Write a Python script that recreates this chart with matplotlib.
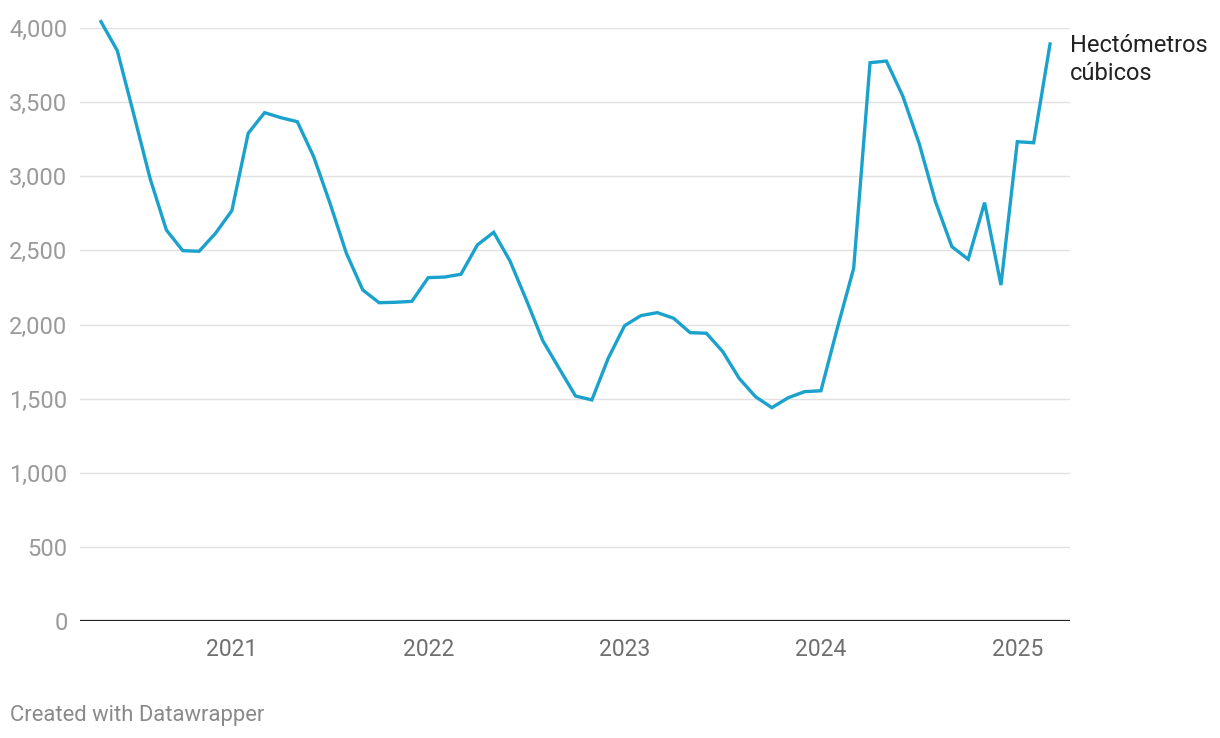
import matplotlib
matplotlib.use("Agg")
import matplotlib.pyplot as plt
import numpy as np

plt.rcParams['font.family'] = ['Roboto', 'DejaVu Sans']

# monthly values, May 2020 .. March 2025 (hectómetros cúbicos)
start_year, start_month = 2020, 5
values = [4043, 3847, 3420, 2986, 2637, 2498, 2494, 2615, 2768, 3290, 3429, 3395,
          3368, 3132, 2817, 2480, 2233, 2147, 2150, 2156, 2316, 2320, 2339, 2536,
          2622, 2428, 2165, 1891, 1704, 1518, 1491, 1772, 1992, 2060, 2080, 2042,
          1945, 1941, 1817, 1637, 1513, 1439, 1506, 1547, 1553, 1975, 2379, 3766,
          3777, 3541, 3222, 2828, 2525, 2440, 2822, 2266, 3233, 3226, 3892]
years = [2021, 2022, 2023, 2024, 2025]
yticks = [0, 500, 1000, 1500, 2000, 2500, 3000, 3500, 4000]
series_label = "Hectómetros\ncúbicos"

t = np.array([start_year + (start_month - 1 + i) / 12 for i in range(len(values))])

fig = plt.figure(figsize=(12.2, 7.38), dpi=100)
ax = fig.add_axes([80 / 1220, (738 - 621) / 738, 990 / 1220, 593 / 738])

for yv in yticks[1:]:
    ax.axhline(yv, color='#e1e1e1', lw=1.0, zorder=1)
ax.axhline(0, color='#222222', lw=1.6, zorder=3)

ax.plot(t, values, color='#1aa2cc', lw=2.4, zorder=4, clip_on=False,
        solid_joinstyle='miter')

ax.set_xlim(t[0] - 1.28 / 12, t[-1] + 1.22 / 12)
ax.set_ylim(0, 4000)

ax.set_yticks(yticks)
ax.set_yticklabels([f"{v:,}" for v in yticks])
ax.set_xticks(years)
ax.set_xticklabels([str(y) for y in years])
ax.tick_params(axis='y', length=0, pad=9, labelsize=17, labelcolor='#9a9a9a')
ax.tick_params(axis='x', length=0, pad=12, labelsize=16.5, labelcolor='#6f6f6f')
for s in ax.spines.values():
    s.set_visible(False)

ax.annotate(series_label, xy=(t[-1], values[-1]), xytext=(14.4, 7),
            textcoords='offset points', va='top', ha='left',
            fontsize=17, color='#222222', linespacing=1.27, annotation_clip=False)

fig.text(10 / 1220, 1 - 716 / 738, "Created with Datawrapper", fontsize=15.8,
         color='#8a8a8a', va='center', ha='left')

fig.savefig("out.png", dpi=100)
